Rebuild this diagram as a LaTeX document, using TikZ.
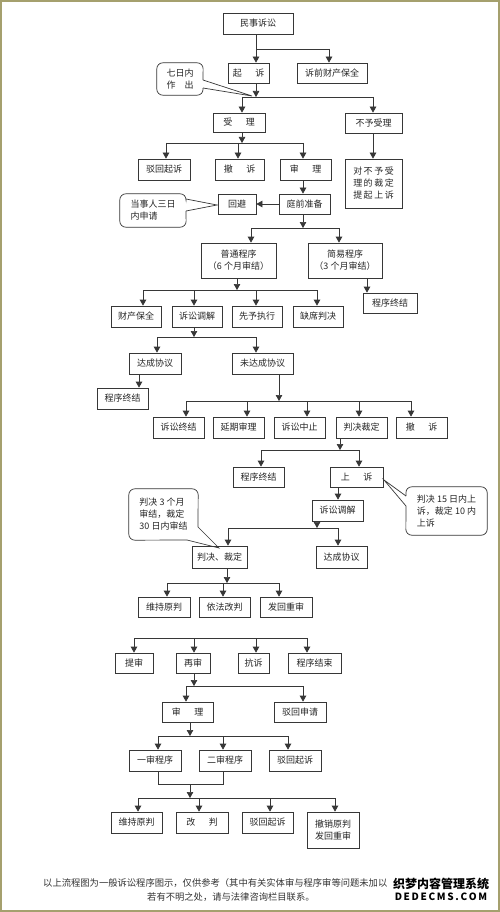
\documentclass[tikz,border=0pt]{standalone}
\usepackage{fontspec}
\setmainfont{Noto Sans CJK SC}
\usetikzlibrary{arrows.meta}
\definecolor{framecol}{RGB}{165,160,110}
\definecolor{ink}{RGB}{55,55,55}
\tikzset{
  box/.style={draw=ink, line width=0.7pt, inner sep=0pt, text=black!85,
    font=\fontsize{9}{12}\selectfont, align=center, fill=white},
  ln/.style={draw=ink, line width=0.7pt},
  arr/.style={ln, -{Triangle[width=6.5pt,length=6pt]}},
  calltext/.style={draw=none, inner sep=0pt, text=black!85,
    font=\fontsize{9}{12}\selectfont, align=left},
  callline/.style={draw=ink, line width=0.7pt},
}
\newcommand{\gapp}{\hspace{1.5em}}
\newcommand{\mybox}[6]{%
  \pgfmathsetmacro{\mybw}{#3-#2}\pgfmathsetmacro{\mybh}{#5-#4}%
  \pgfmathsetmacro{\mybx}{(#2+#3)/2}\pgfmathsetmacro{\myby}{(#4+#5)/2}%
  \node[box,minimum width=\mybw pt,minimum height=\mybh pt] (#1) at (\mybx,\myby) {#6};}
\newcommand{\mycall}[6]{%
  \pgfmathsetmacro{\mybw}{#3-#2}\pgfmathsetmacro{\mybh}{#5-#4}%
  \pgfmathsetmacro{\mybx}{(#2+#3)/2}\pgfmathsetmacro{\myby}{(#4+#5)/2}%
  \node[calltext,minimum width=\mybw pt,minimum height=\mybh pt] (#1) at (\mybx,\myby) {#6};}
\begin{document}
\begin{tikzpicture}[x=1pt,y=-1pt]
\useasboundingbox (0,0) rectangle (500,912);
\fill[white] (0,0) rectangle (500,912);
\draw[framecol, line width=2pt] (1,1) rectangle (499,911);

% ---------- boxes ----------
\mybox{minshi}{223}{293}{13}{34}{民事诉讼}
\mybox{qisu}{228}{269}{63}{83}{起\gapp 诉}
\mybox{suqian}{297}{367}{63}{83}{诉前财产保全}
\mybox{shouli}{213}{265}{113}{132}{受\gapp 理}
\mybox{buyu}{345}{402}{113}{133}{不予受理}
\mybox{bohuia}{138}{190}{159}{180}{驳回起诉}
\mybox{chesua}{215}{264}{159}{180}{撤\gapp 诉}
\mybox{shenlia}{280}{331}{159}{180}{审\gapp 理}
\mybox{duibuyu}{345}{402}{159}{208}{对\,不\,予\,受\\理\,的\,裁\,定\\提\,起\,上\,诉}
\mybox{tingqian}{279}{330}{194}{214}{庭前准备}
\mybox{huibi}{218}{256}{194}{214}{回避}
\mybox{putong}{201}{276}{243}{278}{普通程序\\（6 个月审结）}
\mybox{jianyi}{308}{382}{243}{278}{简易程序\\（3 个月审结）}
\mybox{zhongjiea}{363}{417}{293}{313}{程序终结}
\mybox{caichan}{111}{161}{306}{327}{财产保全}
\mybox{tiaojiea}{172}{222}{306}{327}{诉讼调解}
\mybox{xianyu}{232}{282}{306}{327}{先予执行}
\mybox{quexi}{293}{343}{306}{327}{缺席判决}
\mybox{dachenga}{129}{181}{353}{374}{达成协议}
\mybox{weidacheng}{232}{293}{353}{374}{未达成协议}
\mybox{zhongjieb}{97}{148}{388}{409}{程序终结}
\mybox{susongzj}{153}{204}{417}{438}{诉讼终结}
\mybox{yanqi}{213}{264}{417}{438}{延期审理}
\mybox{zhongzhi}{274}{325}{417}{438}{诉讼中止}
\mybox{panjuea}{336}{387}{417}{438}{判决裁定}
\mybox{chesub}{396}{447}{417}{438}{撤\gapp 诉}
\mybox{zhongjiec}{233}{284}{467}{487}{程序终结}
\mybox{shangsu}{330}{383}{467}{487}{上\gapp 诉}
\mybox{tiaojieb}{312}{363}{500}{521}{诉讼调解}
\mybox{panjueb}{192}{247}{546}{568}{判决、裁定}
\mybox{dachengb}{316}{367}{546}{568}{达成协议}
\mybox{weichia}{138}{190}{597}{617}{维持原判}
\mybox{yifa}{199}{250}{597}{617}{依法改判}
\mybox{fahui}{260}{312}{597}{617}{发回重审}
\mybox{tishen}{115}{153}{653}{673}{提审}
\mybox{zaishen}{176}{210}{653}{673}{再审}
\mybox{kangsu}{238}{269}{653}{673}{抗诉}
\mybox{jieshu}{288}{341}{653}{673}{程序结束}
\mybox{shenlib}{162}{213}{702}{722}{审\gapp 理}
\mybox{bohuib}{274}{326}{702}{722}{驳回申请}
\mybox{yishen}{129}{181}{750}{771}{一审程序}
\mybox{ershen}{199}{251}{750}{771}{二审程序}
\mybox{bohuic}{269}{321}{750}{771}{驳回起诉}
\mybox{weichib}{111}{162}{812}{833}{维持原判}
\mybox{gaipan}{176}{228}{812}{833}{改\gapp 判}
\mybox{bohuid}{242}{293}{812}{833}{驳回起诉}
\mybox{chexiao}{307}{359}{812}{848}{撤销原判\\发回重审}

% ---------- callouts ----------
\mycall{calla}{157}{203}{63}{95}{七日内\\作\hspace{1em}出}
\mycall{callb}{120}{186}{194}{227}{当事人三日\\内申请}
\mycall{callc}{406}{487}{487}{535}{判决 15 日内上\\诉，裁定 10 内\\上诉}
\mycall{calld}{129}{198}{489}{540}{判决 3 个月\\审结，裁定\\30 日内审结}

\coordinate (ta) at (252,96);
\coordinate (a1) at (203,80); \coordinate (a2) at (203,88);
\draw[callline, rounded corners=6pt] (a1) -- (calla.north east) -- (calla.north west) -- (calla.south west) -- (calla.south east) -- (a2);
\draw[callline] (a2) -- (ta) -- (a1);

\coordinate (tb) at (217,205);
\coordinate (b1) at (186,199); \coordinate (b2) at (186,211);
\draw[callline, rounded corners=6pt] (b1) -- (callb.north east) -- (callb.north west) -- (callb.south west) -- (callb.south east) -- (b2);
\draw[callline] (b2) -- (tb) -- (b1);

\coordinate (tc) at (384,480);
\coordinate (c1) at (406,496); \coordinate (c2) at (406,506);
\draw[callline, rounded corners=6pt] (c1) -- (callc.north west) -- (callc.north east) -- (callc.south east) -- (callc.south west) -- (c2);
\draw[callline] (c2) -- (tc) -- (c1);

\coordinate (td) at (219,548);
\coordinate (d1) at (198,527); \coordinate (d2) at (187,540);
\draw[callline, rounded corners=6pt] (d1) -- (calld.north east) -- (calld.north west) -- (calld.south west) -- (d2);
\draw[callline] (d2) -- (td) -- (d1);

% ---------- connectors ----------
% A
\coordinate (A1) at (256,49); \coordinate (A2) at (329,49);
\draw[arr] (minshi.south -| A1) -- (A1 |- qisu.north);
\draw[ln] (A1) -- (A2);
\draw[arr] (A2) -- (A2 |- suqian.north);
% B
\coordinate (B0) at (256,97); \coordinate (B1) at (242,97); \coordinate (B2) at (373,97);
\draw[arr] (qisu.south -| B0) -- (B0);
\draw[ln] (B1) -- (B2);
\draw[arr] (B1) -- (B1 |- shouli.north);
\draw[arr] (B2) -- (B2 |- buyu.north);
% C
\coordinate (C0) at (242,143); \coordinate (C1) at (166,143); \coordinate (C2) at (238,143); \coordinate (C3) at (303,143);
\draw[arr] (shouli.south -| C0) -- (C0);
\draw[ln] (C1) -- (C3);
\draw[arr] (C1) -- (C1 |- bohuia.north);
\draw[arr] (C2) -- (C2 |- chesua.north);
\draw[arr] (C3) -- (C3 |- shenlia.north);
% D, E
\coordinate (D0) at (373,133);
\draw[arr] (buyu.south -| D0) -- (duibuyu.north -| D0);
\coordinate (E0) at (303,180);
\draw[arr] (shenlia.south -| E0) -- (tingqian.north -| E0);
\draw[arr] (tingqian.west) -- (huibi.east);
% F
\coordinate (F0) at (303,228); \coordinate (F1) at (251,228); \coordinate (F2) at (339,228);
\draw[arr] (tingqian.south -| F0) -- (F0);
\draw[ln] (F1) -- (F2);
\draw[arr] (F1) -- (F1 |- putong.north);
\draw[arr] (F2) -- (F2 |- jianyi.north);
% G
\coordinate (G0) at (367,280);
\draw[arr] (jianyi.south -| G0) -- (zhongjiea.north -| G0);
% H
\coordinate (H0) at (237,290); \coordinate (H1) at (143,290); \coordinate (H2) at (194,290);
\coordinate (H3) at (256,290); \coordinate (H4) at (317,290);
\draw[arr] (putong.south -| H0) -- (H0);
\draw[ln] (H1) -- (H4);
\draw[arr] (H1) -- (H1 |- caichan.north);
\draw[arr] (H2) -- (H2 |- tiaojiea.north);
\draw[arr] (H3) -- (H3 |- xianyu.north);
\draw[arr] (H4) -- (H4 |- quexi.north);
% I
\coordinate (I0) at (194,337); \coordinate (I1) at (157,337); \coordinate (I2) at (256,337);
\draw[arr] (tiaojiea.south -| I0) -- (I0);
\draw[ln] (I1) -- (I2);
\draw[arr] (I1) -- (I1 |- dachenga.north);
\draw[arr] (I2) -- (I2 |- weidacheng.north);
% J
\coordinate (J0) at (139,380);
\draw[arr] (dachenga.south -| J0) -- (zhongjieb.north -| J0);
% K
\coordinate (K0) at (279,401); \coordinate (K1) at (186,401); \coordinate (K2) at (247,401);
\coordinate (K3) at (307,401); \coordinate (K4) at (359,401); \coordinate (K5) at (411,401);
\draw[arr] (weidacheng.south -| K0) -- (K0);
\draw[ln] (K1) -- (K5);
\draw[arr] (K1) -- (K1 |- susongzj.north);
\draw[arr] (K2) -- (K2 |- yanqi.north);
\draw[arr] (K3) -- (K3 |- zhongzhi.north);
\draw[arr] (K4) -- (K4 |- panjuea.north);
\draw[arr] (K5) -- (K5 |- chesub.north);
% L
\coordinate (L0) at (340,450); \coordinate (L1) at (261,450); \coordinate (L2) at (359,450);
\draw[arr] (panjuea.south -| L0) -- (L0);
\draw[ln] (L1) -- (L2);
\draw[arr] (L1) -- (L1 |- zhongjiec.north);
\draw[arr] (L2) -- (L2 |- shangsu.north);
% M
\coordinate (M0) at (338,490);
\draw[arr] (shangsu.south -| M0) -- (tiaojieb.north -| M0);
% N
\coordinate (N0) at (317,528); \coordinate (N1) at (228,528); \coordinate (N2) at (338,528);
\draw[arr] (tiaojieb.south -| N0) -- (N0);
\draw[ln] (N1) -- (N2);
\draw[arr] (N1) -- (N1 |- panjueb.north);
\draw[arr] (N2) -- (N2 |- dachengb.north);
% O
\coordinate (O0) at (227,583); \coordinate (O1) at (167,583); \coordinate (O2) at (223,583); \coordinate (O3) at (279,583);
\draw[arr] (panjueb.south -| O0) -- (O0);
\draw[ln] (O1) -- (O3);
\draw[arr] (O1) -- (O1 |- weichia.north);
\draw[arr] (O2) -- (O2 |- yifa.north);
\draw[arr] (O3) -- (O3 |- fahui.north);
% P
\coordinate (P1) at (134,638); \coordinate (P2) at (194,638); \coordinate (P3) at (256,638); \coordinate (P4) at (307,638);
\draw[ln] (P1) -- (P4);
\draw[arr] (P1) -- (P1 |- tishen.north);
\draw[arr] (P2) -- (P2 |- zaishen.north);
\draw[arr] (P3) -- (P3 |- kangsu.north);
\draw[arr] (P4) -- (P4 |- jieshu.north);
% Q
\coordinate (Q0) at (194,686); \coordinate (Q1) at (186,686); \coordinate (Q2) at (303,686);
\draw[arr] (zaishen.south -| Q0) -- (Q0);
\draw[ln] (Q1) -- (Q2);
\draw[arr] (Q1) -- (Q1 |- shenlib.north);
\draw[arr] (Q2) -- (Q2 |- bohuib.north);
% R
\coordinate (R0) at (190,736); \coordinate (R1) at (158,736); \coordinate (R2) at (223,736); \coordinate (R3) at (288,736);
\draw[arr] (shenlib.south -| R0) -- (R0);
\draw[ln] (R1) -- (R3);
\draw[arr] (R1) -- (R1 |- yishen.north);
\draw[arr] (R2) -- (R2 |- ershen.north);
\draw[arr] (R3) -- (R3 |- bohuic.north);
% S
\coordinate (S1) at (158,784); \coordinate (S2) at (223,784); \coordinate (S0) at (190,784);
\draw[ln] (yishen.south -| S1) -- (S1) -- (S2) -- (ershen.south -| S2);
% T
\coordinate (T0) at (190,798); \coordinate (T1) at (138,798); \coordinate (T2) at (199,798);
\coordinate (T3) at (270,798); \coordinate (T4) at (335,798);
\draw[arr] (S0) -- (T0);
\draw[ln] (T1) -- (T4);
\draw[arr] (T1) -- (T1 |- weichib.north);
\draw[arr] (T2) -- (T2 |- gaipan.north);
\draw[arr] (T3) -- (T3 |- bohuid.north);
\draw[arr] (T4) -- (T4 |- chexiao.north);

% ---------- caption ----------
\node[anchor=west, inner sep=0pt, text=black!80, font=\fontsize{9.3}{11}\selectfont] (capa) at (43,883)
  {以上流程图为一般诉讼程序图示，仅供参考（其中有关实体审与程序审等问题未加以};
\node[anchor=west, inner sep=0pt, text=black!80, font=\fontsize{9.3}{11}\selectfont] (capb) at (147,897)
  {若有不明之处，请与法律咨询栏目联系。};
\node[fill=white, inner sep=0.5pt, font=\bfseries\fontsize{12}{14}\selectfont] (wma) at (441,884) {织梦内容管理系统};
\node[inner sep=0pt, font=\bfseries\fontsize{10}{12}\selectfont] (wmb) at (441,897) {D\,E\,D\,E\,C\,M\,S\,.\,C\,O\,M};
\end{tikzpicture}
\end{document}
